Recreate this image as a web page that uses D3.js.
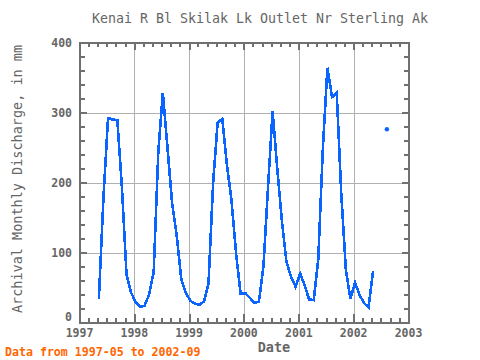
<!DOCTYPE html>
<html>
<head>
<meta charset="utf-8">
<script src="https://cdn.jsdelivr.net/npm/d3@7"></script>
<style>
  body { margin: 0; background: #fff; }
  svg text { font-family: "DejaVu Sans Mono", monospace; fill: #666; }
</style>
</head>
<body>
<div id="chart"></div>
<script>
// Monthly discharge (mm)
var months = [
  "1997-05","1997-06","1997-07","1997-08","1997-09","1997-10","1997-11","1997-12",
  "1998-01","1998-02","1998-03","1998-04","1998-05","1998-06","1998-07","1998-08","1998-09","1998-10","1998-11","1998-12",
  "1999-01","1999-02","1999-03","1999-04","1999-05","1999-06","1999-07","1999-08","1999-09","1999-10","1999-11","1999-12",
  "2000-01","2000-02","2000-03","2000-04","2000-05","2000-06","2000-07","2000-08","2000-09","2000-10","2000-11","2000-12",
  "2001-01","2001-02","2001-03","2001-04","2001-05","2001-06","2001-07","2001-08","2001-09","2001-10","2001-11","2001-12",
  "2002-01","2002-02","2002-03","2002-04","2002-05","2002-06","2002-07","2002-08"
];
var discharge = [
  34, 180, 292, 290, 289, 195, 69, 43,
  29, 22, 24, 40, 72, 245, 328, 250, 170, 125, 62, 42,
  31, 27, 25, 30, 55, 200, 286, 291, 225, 175, 98, 41,
  42, 35, 28, 30, 80, 195, 302, 220, 145, 87, 65, 51,
  70, 52, 33, 32, 90, 250, 364, 322, 328, 185, 75, 34,
  57, 39, 28, 22, 74, null, null, 276
];
var yearTicks = [1997, 1998, 1999, 2000, 2001, 2002, 2003];
var valueTicks = [0, 100, 200, 300, 400];

var title = "Kenai R Bl Skilak Lk Outlet Nr Sterling Ak";
var yLabel = "Archival Monthly Discharge, in mm";
var xLabel = "Date";
var note = "Data from 1997-05 to 2002-09";

var width = 480, height = 360;
var plotLeft = 79.5, plotRight = 408.5, plotTop = 42.5, plotBottom = 322.5;

var parseMonth = d3.timeParse("%Y-%m");
var points = months.map(function(m, i) {
    var d = parseMonth(m);
    d.setDate(10);
    return { date: d, value: discharge[i] };
});

var x = d3.scaleTime().
    domain([new Date(1997, 0, 1), new Date(2003, 0, 1)]).
    range([plotLeft, plotRight]);
var y = d3.scaleLinear().domain([0, 400]).range([plotBottom, plotTop]);

var svg = d3.select("#chart").append("svg").
    attr("width", width).
    attr("height", height);

// grid
var grid = svg.append("g").attr("stroke", "#b0b0b0").attr("stroke-width", 1).
    attr("shape-rendering", "crispEdges");
yearTicks.slice(1, -1).forEach(function(yr) {
    var gx = Math.round(x(new Date(yr, 0, 1))) + 0.5;
    grid.append("line").attr("x1", gx).attr("x2", gx).attr("y1", plotTop).attr("y2", plotBottom);
});
valueTicks.slice(1, -1).forEach(function(v) {
    var gy = Math.round(y(v)) + 0.5;
    grid.append("line").attr("y1", gy).attr("y2", gy).attr("x1", plotLeft).attr("x2", plotRight);
});

// inward ticks on all four sides
function tickSide(g, scale, values, orient, size, sw) {
    var axis;
    if (orient == "bottom") axis = d3.axisTop(scale);
    else if (orient == "top") axis = d3.axisBottom(scale);
    else if (orient == "left") axis = d3.axisRight(scale);
    else axis = d3.axisLeft(scale);
    axis.tickValues(values).tickSize(size).tickFormat("");
    g.call(axis);
    g.select(".domain").remove();
    g.selectAll("line").attr("stroke", "#707070").attr("stroke-width", sw);
}

var minorX = d3.timeMonth.every(2).range(new Date(1997, 0, 1), new Date(2003, 0, 2));
var majorX = yearTicks.map(function(yr) { return new Date(yr, 0, 1); });
var minorY = d3.range(0, 401, 20);

var ticks = svg.append("g").attr("shape-rendering", "crispEdges");
tickSide(ticks.append("g").attr("transform", "translate(0," + plotBottom + ")"), x, minorX, "bottom", 5, 2);
tickSide(ticks.append("g").attr("transform", "translate(0," + plotBottom + ")"), x, majorX, "bottom", 9, 2);
tickSide(ticks.append("g").attr("transform", "translate(0," + plotTop + ")"), x, minorX, "top", 4, 2);
tickSide(ticks.append("g").attr("transform", "translate(0," + plotTop + ")"), x, majorX, "top", 7, 2);
tickSide(ticks.append("g").attr("transform", "translate(" + plotLeft + ",0)"), y, minorY, "left", 5, 2);
tickSide(ticks.append("g").attr("transform", "translate(" + plotLeft + ",0)"), y, valueTicks, "left", 7, 2);
tickSide(ticks.append("g").attr("transform", "translate(" + plotRight + ",0)"), y, minorY, "right", 5, 2);
tickSide(ticks.append("g").attr("transform", "translate(" + plotRight + ",0)"), y, valueTicks, "right", 7, 2);

// frame
svg.append("rect").
    attr("x", plotLeft).attr("y", plotTop).
    attr("width", plotRight - plotLeft).attr("height", plotBottom - plotTop).
    attr("fill", "none").attr("stroke", "#707070").attr("stroke-width", 2).
    attr("shape-rendering", "crispEdges");

// series
var line = d3.line().
    defined(function(d) { return d.value != null; }).
    x(function(d) { return x(d.date); }).
    y(function(d) { return y(d.value); });

svg.append("path").
    datum(points).
    attr("d", line).
    attr("fill", "none").
    attr("stroke", "#0a64ff").
    attr("stroke-width", 2.6).
    attr("stroke-linejoin", "miter").
    attr("shape-rendering", "crispEdges");

// lone points (no neighbours) get a dot
var lone = points.filter(function(d, i) {
    if (d.value == null) return false;
    var prev = points[i - 1], next = points[i + 1];
    return (!prev || prev.value == null) && (!next || next.value == null);
});
svg.selectAll("circle.lone").
    data(lone).
    enter().append("circle").
    attr("class", "lone").
    attr("cx", function(d) { return x(d.date); }).
    attr("cy", function(d) { return y(d.value); }).
    attr("r", 2.2).
    attr("fill", "#0a64ff");

// tick labels
svg.append("g").selectAll("text").
    data(yearTicks).
    enter().append("text").
    attr("x", function(d) { return x(new Date(d, 0, 1)); }).
    attr("y", 337).
    attr("text-anchor", "middle").
    attr("font-size", 11.5).
    attr("font-weight", "bold").
    text(function(d) { return d; });

svg.append("g").selectAll("text").
    data(valueTicks).
    enter().append("text").
    attr("x", 72).
    attr("y", function(d) { return y(d) + (d == 0 ? -1.5 : 4); }).
    attr("text-anchor", "end").
    attr("font-size", 11.5).
    attr("font-weight", "bold").
    text(function(d) { return d; });

// titles
svg.append("text").
    attr("x", 260).attr("y", 23).
    attr("text-anchor", "middle").
    attr("font-size", 13.3).
    text(title);

svg.append("text").
    attr("transform", "translate(22,179) rotate(-90)").
    attr("text-anchor", "middle").
    attr("font-size", 13.5).
    text(yLabel);

svg.append("text").
    attr("x", 274).attr("y", 352).
    attr("text-anchor", "middle").
    attr("font-size", 13.5).
    attr("font-weight", "bold").
    text(xLabel);

svg.append("text").
    attr("x", 5).attr("y", 356).
    attr("font-size", 11.6).
    attr("font-weight", "bold").
    style("fill", "#ff6600").
    text(note);
</script>
</body>
</html>
